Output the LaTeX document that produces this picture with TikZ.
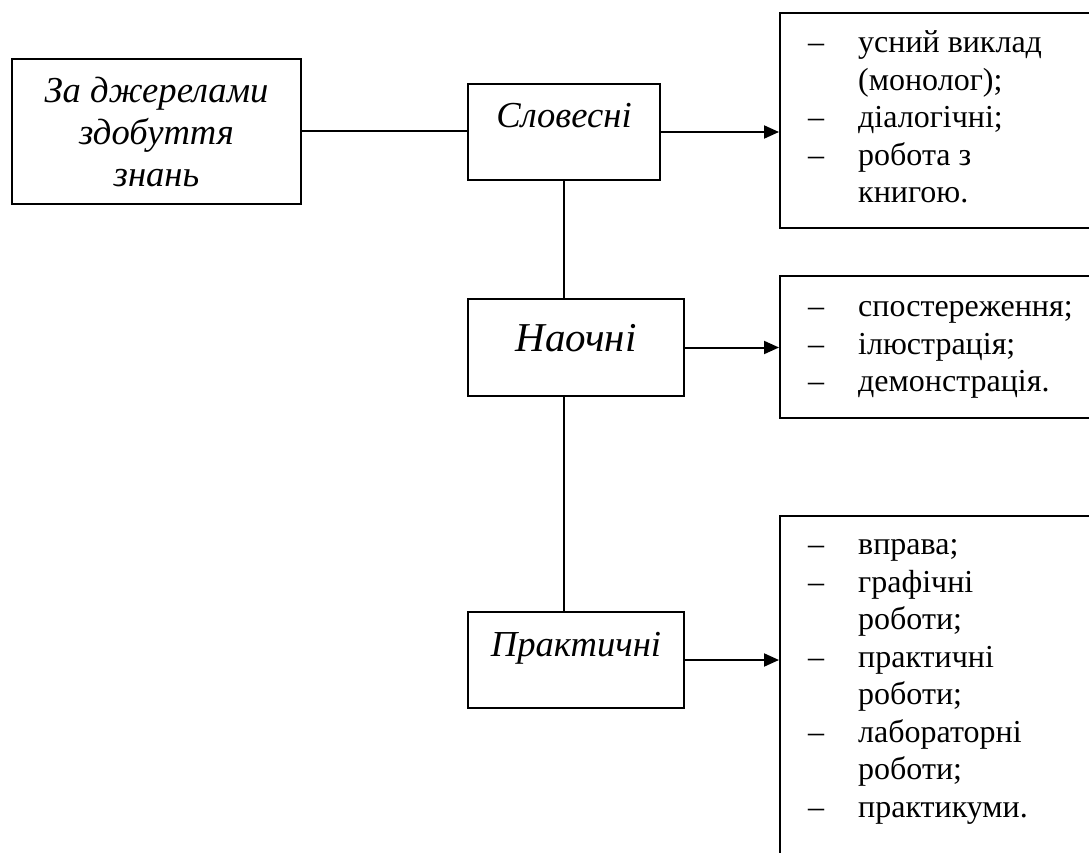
\documentclass[tikz,border=0pt]{standalone}
\usepackage{fontspec}
\setmainfont{Liberation Serif}
\usepackage{tikz}
\usetikzlibrary{positioning, arrows.meta}

% list helpers
\newcommand{\dashitem}{\makebox[50pt][l]{–}}
\newcommand{\skipitem}{\hspace*{50pt}}

\begin{document}
\begin{tikzpicture}[x=1pt, y=-1pt,
    box/.style={draw, line width=2pt, inner sep=0pt, anchor=north west},
    catbox/.style={box, minimum width=192pt, font=\itshape\fontsize{36.6}{42}\selectfont},
    listbox/.style={box, minimum width=330pt},
    listtext/.style={anchor=base west, inner sep=0pt, font=\fontsize{32}{37.5}\selectfont},
    link/.style={line width=2pt},
    arrow/.style={link, -{Triangle[length=15pt, width=13pt]}}]
    \useasboundingbox (0,0) rectangle (1089,853);

    % Source box
    \node[box, minimum width=289pt, minimum height=145pt, align=center,
          font=\itshape\fontsize{36.6}{42}\selectfont] (sourceBox) at (11,58)
        {За джерелами\\здобуття\\знань};

    % Method boxes
    \node[catbox, text height=44pt, text depth=52pt] (verbalBox) at (467,83) {Словесні};
    \node[catbox, minimum width=216pt, text height=52pt, text depth=45pt,
          font=\itshape\fontsize{41}{47}\selectfont] (visualBox) at (467,298) {Наочні};
    \node[catbox, minimum width=216pt, text height=44pt, text depth=52pt] (practBox) at (467,611) {Практичні};

    % List boxes (right side runs off the page)
    \node[listbox, minimum height=215pt] (verbalList) at (779,12) {};
    \node[listbox, minimum height=142pt] (visualList) at (779,275) {};
    \node[listbox, minimum height=400pt] (practList) at (779,515) {};

    % List texts
    \node[listtext] (verbalText) at (808,53) {\parbox[t]{270pt}{\raggedright
        \dashitem усний виклад\\ \skipitem(монолог);\\ \dashitem діалогічні;\\
        \dashitem робота з\\ \skipitem книгою.}};
    \node[listtext] (visualText) at (808,316.5) {\parbox[t]{270pt}{\raggedright
        \dashitem спостереження;\\ \dashitem ілюстрація;\\ \dashitem демонстрація.}};
    \node[listtext] (practText) at (808,554.5) {\parbox[t]{270pt}{\raggedright
        \dashitem вправа;\\ \dashitem графічні\\ \skipitem роботи;\\
        \dashitem практичні\\ \skipitem роботи;\\ \dashitem лабораторні\\
        \skipitem роботи;\\ \dashitem практикуми.}};

    % Connectors
    \draw[link] (sourceBox.east) -- (sourceBox.east -| verbalBox.west);
    \draw[link] (verbalBox.south) -- (verbalBox.south |- visualBox.north);
    \draw[link] (verbalBox.south |- visualBox.south) -- (verbalBox.south |- practBox.north);

    % Arrows to the lists
    \draw[arrow] (verbalBox.east) -- (verbalBox.east -| verbalList.west);
    \draw[arrow] (visualBox.east) -- (visualBox.east -| visualList.west);
    \draw[arrow] (practBox.east) -- (practBox.east -| practList.west);
\end{tikzpicture}
\end{document}
